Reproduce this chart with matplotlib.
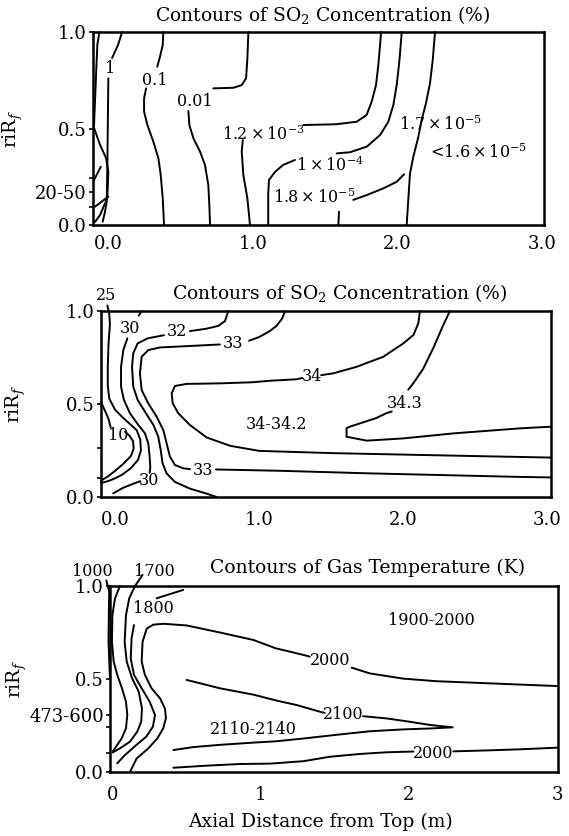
import matplotlib.pyplot as plt

plt.rcParams['font.family'] = 'DejaVu Serif'
plt.rcParams['mathtext.fontset'] = 'dejavuserif'

# contour polylines: x = axial distance (m), y = r/Rf
# --- panel 1: SO2 concentration near the inlet (%)
so2a_edge_a = [(-0.06, 1.0), (-0.074, 0.933), (-0.083, 0.777), (-0.092, 0.606), (-0.097, 0.518)]
so2a_edge_b = [(-0.097, 0.503), (-0.055, 0.415), (-0.014, 0.347), (0.002, 0.276), (-0.005, 0.14),
               (-0.055, 0.052), (-0.09, 0.016)]
so2a_mark_a = [(-0.097, 0.233), (-0.05, 0.302)]
so2a_mark_b = [(-0.09, 0.095), (0.002, 0.147)]
so2a_1_top = [(0.097, 1.0), (0.069, 0.933), (0.028, 0.865)]
so2a_1_bot = [(0.002, 0.76), (-0.005, 0.294), (-0.009, 0.121), (-0.021, 0.069), (-0.037, 0.017)]
so2a_01_top = [(0.382, 1.0), (0.378, 0.933), (0.359, 0.872), (0.34, 0.82)]
so2a_01_bot = [(0.263, 0.708), (0.249, 0.656), (0.249, 0.587), (0.272, 0.518), (0.313, 0.432),
               (0.348, 0.346), (0.364, 0.259), (0.378, 0.138), (0.387, 0.0)]
so2a_001_top = [(0.970, 1.0), (0.963, 0.864), (0.954, 0.760), (0.924, 0.725), (0.866, 0.711), (0.728, 0.708)]
so2a_001_bot = [(0.555, 0.591), (0.562, 0.518), (0.590, 0.449), (0.636, 0.380), (0.670, 0.311),
                (0.693, 0.207), (0.700, 0.104), (0.705, 0.0)]
so2a_12e3_bot = [(0.931, 0.44), (0.924, 0.380), (0.935, 0.259), (0.963, 0.138), (0.981, 0.0)]
so2a_12e3_top = [(1.350, 0.518), (1.577, 0.522), (1.718, 0.535), (1.787, 0.570), (1.822, 0.639),
                 (1.852, 0.725), (1.868, 0.829), (1.880, 0.933), (1.887, 1.0)]
so2a_1e4_bot = [(1.107, 0.0), (1.107, 0.155), (1.112, 0.233), (1.154, 0.275), (1.209, 0.311), (1.292, 0.337)]
so2a_1e4_top = [(1.580, 0.371), (1.672, 0.377), (1.788, 0.406), (1.880, 0.466), (1.937, 0.535),
                (1.972, 0.622), (1.995, 0.725), (2.013, 0.846), (2.030, 1.0)]
so2a_17e5 = [(2.260, 1.0), (2.244, 0.855), (2.225, 0.734), (2.197, 0.630), (2.167, 0.544), (2.145, 0.458),
             (2.110, 0.354), (2.087, 0.268), (2.075, 0.130), (2.064, 0.0)]
so2a_18e5 = [(1.695, 0.130), (1.788, 0.155), (1.903, 0.190), (1.995, 0.224), (2.046, 0.263)]
so2a_stub = [(1.596, 0.069), (1.592, 0.0)]
so2a_labels = ['1', '0.1', '0.01', r'$1.2\times10^{-3}$', r'$1\times10^{-4}$', r'$1.8\times10^{-5}$',
               r'$1.7\times10^{-5}$', r'$<\!1.6\times10^{-5}$']
so2a_label_xy = [(0.014, 0.81), (0.325, 0.751), (0.601, 0.642), (1.071, 0.47), (1.534, 0.311),
                 (1.424, 0.14), (2.30, 0.518), (2.55, 0.373)]

# --- panel 2: SO2 concentration further down (%)
so2b_25 = [(-0.053, 1.03), (-0.04, 0.986), (-0.035, 0.93), (-0.045, 0.82), (-0.05, 0.70), (-0.05, 0.6),
           (-0.04, 0.53), (0.0, 0.47), (0.05, 0.43), (0.10, 0.395), (0.15, 0.36), (0.175, 0.31),
           (0.18, 0.25), (0.16, 0.2), (0.11, 0.155), (0.05, 0.12), (0.0, 0.10), (-0.05, 0.085), (-0.097, 0.075)]
so2b_10_a = [(-0.097, 0.51), (-0.07, 0.465), (-0.045, 0.42), (-0.03, 0.375)]
so2b_10_b = [(0.07, 0.35), (0.1, 0.33), (0.125, 0.30), (0.13, 0.26), (0.11, 0.22), (0.06, 0.18),
             (0.0, 0.14), (-0.05, 0.11), (-0.097, 0.088)]
so2b_30_a = [(0.185, 1.0), (0.165, 0.975)]
so2b_30_b = [(0.086, 0.853), (0.058, 0.79), (0.042, 0.70), (0.042, 0.593), (0.062, 0.522), (0.104, 0.45),
             (0.162, 0.387), (0.208, 0.342), (0.231, 0.288), (0.24, 0.22), (0.245, 0.16), (0.24, 0.13)]
so2b_30_c = [(0.175, 0.085), (0.139, 0.075), (0.058, 0.05), (-0.012, 0.02)]
so2b_32_a = [(0.786, 1.0), (0.763, 0.946), (0.717, 0.92), (0.636, 0.905), (0.52, 0.892)]
so2b_32_b = [(0.34, 0.87), (0.227, 0.853), (0.157, 0.826), (0.127, 0.773), (0.118, 0.70), (0.127, 0.593),
             (0.157, 0.522), (0.215, 0.45), (0.266, 0.388), (0.3, 0.325), (0.317, 0.253), (0.33, 0.181),
             (0.358, 0.127), (0.416, 0.081), (0.52, 0.045), (0.636, 0.018), (0.705, 0.0)]
so2b_33_a = [(1.179, 1.0), (1.16, 0.96), (1.12, 0.92), (1.07, 0.89), (1.0, 0.86), (0.93, 0.84)]
so2b_33_b = [(0.728, 0.82), (0.497, 0.811), (0.312, 0.804), (0.231, 0.79), (0.185, 0.754), (0.173, 0.665),
             (0.185, 0.575), (0.231, 0.503), (0.289, 0.432), (0.335, 0.36), (0.358, 0.289), (0.381, 0.217),
             (0.416, 0.172), (0.474, 0.154), (0.52, 0.15)]
so2b_33_c = [(0.70, 0.148), (1.144, 0.141), (1.768, 0.127), (2.808, 0.108), (3.024, 0.105)]
so2b_34_a = [(2.115, 1.0), (2.104, 0.934), (2.07, 0.871), (2.0, 0.826), (1.861, 0.754), (1.676, 0.70),
             (1.514, 0.665), (1.43, 0.655)]
so2b_34_b = [(1.30, 0.64), (1.26, 0.633), (1.075, 0.625), (0.957, 0.617), (0.728, 0.611), (0.497, 0.608),
             (0.416, 0.597), (0.393, 0.558), (0.4, 0.504), (0.439, 0.45), (0.52, 0.387), (0.636, 0.32),
             (0.8, 0.275), (1.0, 0.248), (1.5, 0.236), (2.0, 0.228), (2.5, 0.22), (3.024, 0.212)]
so2b_343_a = [(2.323, 1.0), (2.277, 0.925), (2.207, 0.80), (2.138, 0.69), (2.068, 0.61), (2.034, 0.577)]
so2b_343_b = [(1.92, 0.46), (1.881, 0.45), (1.81, 0.424), (1.629, 0.378), (1.606, 0.37), (1.606, 0.324),
              (1.745, 0.303), (2.0, 0.315), (2.347, 0.342), (2.808, 0.369), (3.024, 0.378)]
so2b_labels = ['25', '30', '32', '33', '34', '34.3', '34-34.2', '10', '33', '30']
so2b_label_xy = [(-0.062, 1.086), (0.104, 0.907), (0.428, 0.889), (0.82, 0.826), (1.364, 0.647),
                 (2.011, 0.504), (1.12, 0.39), (0.02, 0.33), (0.612, 0.145), (0.238, 0.091)]

# --- panel 3: gas temperature (K)
temp_1000 = [(-0.045, 1.03), (-0.025, 0.97), (-0.028, 0.85), (-0.03, 0.7), (-0.025, 0.6), (-0.02, 0.5)]
temp_k1 = [(0.047, 1.0), (0.014, 0.934), (-0.004, 0.844), (-0.007, 0.70), (0.005, 0.593), (0.029, 0.522),
           (0.061, 0.45), (0.088, 0.378), (0.097, 0.307), (0.088, 0.235), (0.059, 0.181), (0.025, 0.141),
           (-0.002, 0.109)]
temp_1700 = [(0.20, 1.06), (0.149, 1.0), (0.110, 0.934), (0.088, 0.844), (0.079, 0.70), (0.093, 0.593),
             (0.129, 0.504), (0.174, 0.432), (0.196, 0.342), (0.191, 0.271), (0.164, 0.217), (0.115, 0.163),
             (0.047, 0.127), (-0.002, 0.105)]
temp_1800 = [(0.142, 0.79), (0.126, 0.72), (0.12, 0.611), (0.142, 0.522), (0.194, 0.45), (0.248, 0.378),
             (0.284, 0.307), (0.27, 0.244), (0.225, 0.19), (0.153, 0.142), (0.081, 0.091), (0.029, 0.047)]
temp_1800_top = [(0.295, 0.934), (0.475, 0.979)]
temp_2000u_a = [(0.115, 0.0), (0.160, 0.073), (0.239, 0.127), (0.3, 0.181), (0.340, 0.235), (0.358, 0.29),
                (0.351, 0.342), (0.318, 0.396), (0.261, 0.45), (0.216, 0.522), (0.194, 0.593), (0.2, 0.70),
                (0.228, 0.771), (0.272, 0.792), (0.340, 0.797), (0.497, 0.788), (0.723, 0.75), (0.948, 0.71),
                (1.1, 0.665), (1.196, 0.647), (1.309, 0.625), (1.33, 0.62)]
temp_2000u_b = [(1.613, 0.561), (1.736, 0.530), (1.961, 0.502), (2.187, 0.488), (2.412, 0.481),
                (2.75, 0.47), (3.007, 0.462)]
temp_2100_a = [(0.498, 0.495), (0.723, 0.45), (0.948, 0.416), (1.1, 0.385), (1.241, 0.36), (1.399, 0.324),
               (1.43, 0.318)]
temp_2100_b = [(1.69, 0.30), (1.849, 0.288), (2.007, 0.27), (2.142, 0.253), (2.295, 0.24), (2.142, 0.234),
               (1.961, 0.229), (1.736, 0.219), (1.511, 0.200), (1.286, 0.18), (1.1, 0.165), (0.948, 0.158),
               (0.723, 0.146), (0.543, 0.134), (0.408, 0.118)]
temp_2000l_a = [(0.408, 0.023), (0.633, 0.034), (0.858, 0.043), (1.061, 0.045), (1.286, 0.058),
                (1.466, 0.082), (1.669, 0.097), (1.849, 0.106), (2.03, 0.11)]
temp_2000l_b = [(2.30, 0.111), (2.525, 0.116), (2.75, 0.122), (3.007, 0.131)]
temp_labels = ['1000', '1700', '1800', '1900-2000', '2000', '2100', '2110-2140', '2000']
temp_label_xy = [(-0.142, 1.08), (0.28, 1.08), (0.272, 0.88), (2.153, 0.817), (1.466, 0.602),
                 (1.556, 0.31), (0.95, 0.23), (2.164, 0.10)]

panels = [
    dict(lines=[so2a_edge_a, so2a_edge_b, so2a_mark_a, so2a_mark_b, so2a_1_top, so2a_1_bot, so2a_01_top,
                so2a_01_bot, so2a_001_top, so2a_001_bot, so2a_12e3_bot, so2a_12e3_top, so2a_1e4_bot,
                so2a_1e4_top, so2a_17e5, so2a_18e5, so2a_stub],
         labels=so2a_labels, label_xy=so2a_label_xy,
         title=r'Contours of SO$_2$ Concentration (%)',
         rect=[93, 32, 544, 225], xlim=(-0.104, 3.013),
         xticklabels=['0.0', '1.0', '2.0', '3.0'], yticks=[0.0, 0.17, 0.5, 1.0],
         yticklabels=['0.0', '20-50', '0.5', '1.0'], minor=[0.095, 0.245],
         title_xy=(0.51, 1.088), ylab_x=-0.15, xpad=7),
    dict(lines=[so2b_25, so2b_10_a, so2b_10_b, so2b_30_a, so2b_30_b, so2b_30_c, so2b_32_a, so2b_32_b,
                so2b_33_a, so2b_33_b, so2b_33_c, so2b_34_a, so2b_34_b, so2b_343_a, so2b_343_b],
         labels=so2b_labels, label_xy=so2b_label_xy,
         title=r'Contours of SO$_2$ Concentration (%)',
         rect=[101, 311, 551, 497], xlim=(-0.097, 3.024),
         xticklabels=['0.0', '1.0', '2.0', '3.0'], yticks=[0.0, 0.5, 1.0],
         yticklabels=['0.0', '0.5', '1.0'], minor=[0.1, 0.265],
         title_xy=(0.531, 1.097), ylab_x=-0.162, xpad=10),
    dict(lines=[temp_1000, temp_k1, temp_1700, temp_1800, temp_1800_top, temp_2000u_a, temp_2000u_b,
                temp_2100_a, temp_2100_b, temp_2000l_a, temp_2000l_b],
         labels=temp_labels, label_xy=temp_label_xy,
         title='Contours of Gas Temperature (K)',
         rect=[110, 586, 558, 772], xlim=(-0.020, 3.007),
         xticklabels=['0', '1', '2', '3'], yticks=[0.0, 0.306, 0.5, 1.0],
         yticklabels=['0.0', '473-600', '0.5', '1.0'], minor=[0.1, 0.244],
         title_xy=(0.574, 1.097), ylab_x=-0.18, xpad=10),
]

W, H = 569, 836
fig = plt.figure(figsize=(W / 100, H / 100), dpi=100)

for p in panels:
    l, t, r, b = p['rect']
    ax = fig.add_axes([l / W, 1 - b / H, (r - l) / W, (b - t) / H])
    for pts in p['lines']:
        xs = [q[0] for q in pts]
        ys = [q[1] for q in pts]
        ax.plot(xs, ys, color='black', lw=1.4, clip_on=False, solid_capstyle='round')
    for txt, (x, y) in zip(p['labels'], p['label_xy']):
        ax.text(x, y, txt, ha='center', va='center', fontsize=11.5, clip_on=False)
    ax.set_xlim(*p['xlim'])
    ax.set_ylim(0, 1)
    ax.set_xticks([0, 1, 2, 3])
    ax.set_xticklabels(p['xticklabels'])
    ax.set_yticks(p['yticks'])
    ax.set_yticklabels(p['yticklabels'])
    ax.set_yticks(p['minor'], minor=True)
    ax.tick_params(axis='x', length=0, pad=p['xpad'], labelsize=13)
    ax.tick_params(axis='y', which='major', length=3, width=1.2, pad=1.5, labelsize=13)
    ax.tick_params(axis='y', which='minor', length=3, width=1.2)
    for s in ax.spines.values():
        s.set_linewidth(1.8)
    ax.set_ylabel(r'riR$_f$', fontsize=13.5)
    ax.yaxis.set_label_coords(p['ylab_x'], 0.5)
    ax.text(p['title_xy'][0], p['title_xy'][1], p['title'], transform=ax.transAxes,
            ha='center', va='center', fontsize=13.5)

fig.text(320 / W, 1 - 822 / H, 'Axial Distance from Top (m)', ha='center', va='center', fontsize=13.5)

fig.savefig('out.png', dpi=100)
